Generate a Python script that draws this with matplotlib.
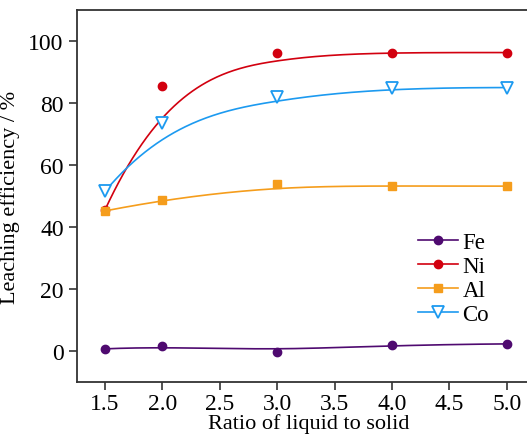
import numpy as np
import matplotlib.pyplot as plt

plt.rcParams['font.family'] = ['Liberation Serif', 'DejaVu Serif']

ratio = [1.5, 2.0, 3.0, 4.0, 5.0]
fe = [0.7, 1.5, -0.3, 2.0, 2.3]
ni = [45.5, 85.5, 96.3, 96.3, 96.3]
al = [45.2, 48.8, 53.8, 53.2, 53.2]
co = [51.5, 73.5, 82.0, 85.0, 85.0]

colors = {'Fe': '#4f0a70', 'Ni': '#d2000f', 'Al': '#f59d1c', 'Co': '#1c9af0'}
markers = {'Fe': 'o', 'Ni': 'o', 'Al': 's', 'Co': 'v'}


def bspline(px, py, deg=3, n=300):
    # clamped B-spline using the data points as control points
    px = np.asarray(px, float)
    py = np.asarray(py, float)
    m = len(px)
    inner = np.linspace(0, 1, m - deg + 1)[1:-1]
    knots = np.concatenate([np.zeros(deg + 1), inner, np.ones(deg + 1)])
    t = np.linspace(0, 1, n)
    t[-1] = 1 - 1e-12
    N = np.zeros((n, len(knots) - 1))
    for i in range(len(knots) - 1):
        N[:, i] = (knots[i] <= t) & (t < knots[i + 1])
    for d in range(1, deg + 1):
        Nn = np.zeros((n, len(knots) - 1 - d))
        for i in range(len(knots) - 1 - d):
            a = knots[i + d] - knots[i]
            b = knots[i + d + 1] - knots[i + 1]
            left = (t - knots[i]) / a * N[:, i] if a > 0 else 0
            right = (knots[i + d + 1] - t) / b * N[:, i + 1] if b > 0 else 0
            Nn[:, i] = left + right
        N = Nn
    return N @ px, N @ py


fig = plt.figure(figsize=(5.27, 4.35), dpi=100)
ax = fig.add_axes([0.146, 0.1195, 0.88, 0.855])

for name, vals in [('Fe', fe), ('Ni', ni), ('Al', al), ('Co', co)]:
    xc, yc = bspline(ratio, vals)
    ax.plot(xc, yc, color=colors[name], lw=1.2)
    if markers[name] == 'v':
        ax.plot(ratio, vals, 'v', mfc='white', mec=colors[name], ms=8, mew=1.3)
    else:
        ax.plot(ratio, vals, markers[name], color=colors[name], ms=6)

# legend handles
for name in ['Fe', 'Ni', 'Al', 'Co']:
    mk = markers[name]
    if mk == 'v':
        ax.plot([], [], color=colors[name], marker=mk, mfc='white', mec=colors[name],
                ms=8, mew=1.3, lw=1.2, label=name)
    else:
        ax.plot([], [], color=colors[name], marker=mk, ms=6, lw=1.2, label=name)

ax.legend(loc='upper left', bbox_to_anchor=(0.735, 0.403), frameon=False, fontsize=16.5,
          handlelength=1.75, handletextpad=0.2, labelspacing=0.12, borderaxespad=0,
          borderpad=0)

ax.set_xlim(1.256, 5.296)
ax.set_ylim(-10, 110)
ax.set_xticks([1.5, 2.0, 2.5, 3.0, 3.5, 4.0, 4.5, 5.0])
ax.set_yticks([0, 20, 40, 60, 80, 100])
ax.tick_params(direction='out', length=6, width=1.2, labelsize=17, color='#333333')
ax.tick_params(axis='x', pad=2)
for s in ax.spines.values():
    s.set_color('#333333')
    s.set_linewidth(1.3)

ax.set_xlabel('Ratio of liquid to solid', fontsize=16, labelpad=-1)
ax.set_ylabel('Leaching efficiency / %', fontsize=16, labelpad=6)

fig.savefig('out.png', dpi=100)
